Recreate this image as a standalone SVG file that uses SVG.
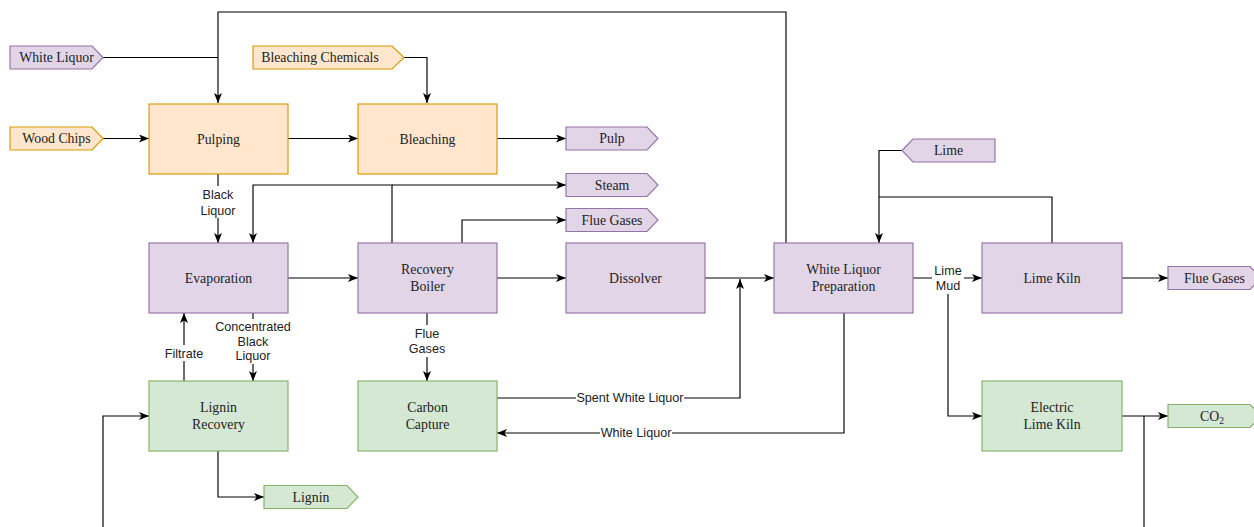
<svg xmlns="http://www.w3.org/2000/svg" width="1254" height="527" viewBox="0 0 1254 527">
<defs>
<marker id="arr" viewBox="0 0 10 8" refX="10" refY="4" markerWidth="10" markerHeight="8" markerUnits="userSpaceOnUse" orient="auto">
<path d="M0,0 L10,4 L0,8 L2.5,4 z" fill="#000"/>
</marker>
<style>
.orange{fill:#ffe6cc;stroke:#d79b00;stroke-width:1.15}
.purple{fill:#e1d5e7;stroke:#9673a6;stroke-width:1.15}
.green{fill:#d5e8d4;stroke:#82b366;stroke-width:1.15}
.nt{font-family:"Liberation Serif","Times New Roman",serif;font-size:13.8px;fill:#222;text-anchor:middle}
.lt{font-family:"Liberation Sans",Arial,sans-serif;font-size:12.6px;fill:#222;text-anchor:middle}
.ln{fill:none;stroke:#000;stroke-width:1.15}
.a{marker-end:url(#arr)}
.bg{fill:#fff}
</style>
</defs>
<rect width="1254" height="527" fill="#fff"/>

<g id="connectors">
<polyline class="ln a" points="786,243 786,12 218,12 218,103"/>
<polyline class="ln" points="103,57.5 218,57.5"/>
<polyline class="ln a" points="404,57.5 427,57.5 427,103"/>
<polyline class="ln a" points="103,138.5 149,138.5"/>
<polyline class="ln a" points="288,138.5 358,138.5"/>
<polyline class="ln a" points="497,138.5 566,138.5"/>
<polyline class="ln a" points="218,174 218,243"/>
<polyline class="ln a" points="392,243 392,185 253,185 253,243"/>
<polyline class="ln a" points="392,185 566,185"/>
<polyline class="ln a" points="462,243 462,220 566,220"/>
<polyline class="ln a" points="288,278 358,278"/>
<polyline class="ln a" points="497,278 566,278"/>
<polyline class="ln a" points="705,278 774,278"/>
<polyline class="ln a" points="497,398 740,398 740,279"/>
<polyline class="ln a" points="844,313 844,433 497,433"/>
<polyline class="ln a" points="902,150.5 879,150.5 879,243"/>
<polyline class="ln" points="1052,243 1052,197 879,197"/>
<polyline class="ln a" points="913,278 982,278"/>
<polyline class="ln a" points="948,278 948,416 982,416"/>
<polyline class="ln a" points="1122,278 1168,278"/>
<polyline class="ln a" points="1122,416 1168,416"/>
<polyline class="ln" points="1144,416 1144,527"/>
<polyline class="ln a" points="253,313 253,381"/>
<polyline class="ln a" points="184,381 184,313"/>
<polyline class="ln a" points="427,313 427,381"/>
<polyline class="ln a" points="218,451 218,497 264,497"/>
<polyline class="ln a" points="103,527 103,416 149,416"/>

<rect class="bg" x="196" y="186" width="44" height="32"/>
<text class="lt" x="218" y="198.5">Black</text>
<text class="lt" x="218" y="214.5">Liquor</text>
<rect class="bg" x="212" y="319" width="82" height="45"/>
<text class="lt" x="253" y="331">Concentrated</text>
<text class="lt" x="253" y="345.5">Black</text>
<text class="lt" x="253" y="360">Liquor</text>
<rect class="bg" x="162" y="345" width="44" height="16"/>
<text class="lt" x="184" y="357.5">Filtrate</text>
<rect class="bg" x="405" y="325" width="44" height="32"/>
<text class="lt" x="427" y="337.5">Flue</text>
<text class="lt" x="427" y="353">Gases</text>
<rect class="bg" x="932" y="262" width="32" height="32"/>
<text class="lt" x="948" y="274.5">Lime</text>
<text class="lt" x="948" y="290">Mud</text>
<rect class="bg" x="576" y="390" width="108" height="16"/>
<text class="lt" x="630" y="402">Spent White Liquor</text>
<rect class="bg" x="600" y="425" width="72" height="16"/>
<text class="lt" x="636" y="437">White Liquor</text>
</g>

<g id="white-liquor-in"><polygon class="purple" points="10,46 92,46 103,57.5 92,69 10,69"/><text class="nt" x="56.5" y="62">White Liquor</text></g>
<g id="bleaching-chemicals"><polygon class="orange" points="253,46 392,46 404,57.5 392,69 253,69"/><text class="nt" x="320" y="61.5">Bleaching Chemicals</text></g>
<g id="wood-chips"><polygon class="orange" points="10,127 92,127 103,138.5 92,150 10,150"/><text class="nt" x="56.5" y="143">Wood Chips</text></g>
<g id="pulping"><rect class="orange" x="149" y="104" width="139" height="70"/><text class="nt" x="218.5" y="143.5">Pulping</text></g>
<g id="bleaching"><rect class="orange" x="358" y="104" width="139" height="70"/><text class="nt" x="427.5" y="143.5">Bleaching</text></g>
<g id="pulp"><polygon class="purple" points="566,127 647,127 658,138.5 647,150 566,150"/><text class="nt" x="612" y="143">Pulp</text></g>
<g id="steam"><polygon class="purple" points="566,173.5 647,173.5 658,185 647,196.5 566,196.5"/><text class="nt" x="612" y="189.5">Steam</text></g>
<g id="flue-gases-1"><polygon class="purple" points="566,208.5 647,208.5 658,220 647,231.5 566,231.5"/><text class="nt" x="612" y="224.5">Flue Gases</text></g>
<g id="lime"><polygon class="purple" points="902,150.5 913,139 995,139 995,162 913,162"/><text class="nt" x="948.5" y="155">Lime</text></g>
<g id="evaporation"><rect class="purple" x="149" y="243" width="139" height="70"/><text class="nt" x="218.5" y="282.5">Evaporation</text></g>
<g id="recovery-boiler"><rect class="purple" x="358" y="243" width="139" height="70"/><text class="nt" x="427.5" y="274">Recovery</text><text class="nt" x="427.5" y="290.5">Boiler</text></g>
<g id="dissolver"><rect class="purple" x="566" y="243" width="139" height="70"/><text class="nt" x="635.5" y="282.5">Dissolver</text></g>
<g id="white-liquor-prep"><rect class="purple" x="774" y="243" width="139" height="70"/><text class="nt" x="843.5" y="274">White Liquor</text><text class="nt" x="843.5" y="290.5">Preparation</text></g>
<g id="lime-kiln"><rect class="purple" x="982" y="243" width="140" height="70"/><text class="nt" x="1052" y="282.5">Lime Kiln</text></g>
<g id="flue-gases-2"><polygon class="purple" points="1168,266.5 1250,266.5 1261,278 1250,289.5 1168,289.5"/><text class="nt" x="1214.5" y="282.5">Flue Gases</text></g>
<g id="lignin-recovery"><rect class="green" x="149" y="381" width="139" height="70"/><text class="nt" x="218.5" y="412">Lignin</text><text class="nt" x="218.5" y="428.5">Recovery</text></g>
<g id="carbon-capture"><rect class="green" x="358" y="381" width="139" height="70"/><text class="nt" x="427.5" y="412">Carbon</text><text class="nt" x="427.5" y="428.5">Capture</text></g>
<g id="electric-lime-kiln"><rect class="green" x="982" y="381" width="140" height="70"/><text class="nt" x="1052" y="412">Electric</text><text class="nt" x="1052" y="428.5">Lime Kiln</text></g>
<g id="co2"><polygon class="green" points="1168,404.5 1250,404.5 1261,416 1250,427.5 1168,427.5"/><text class="nt" x="1212" y="420.5">CO<tspan font-size="9.5px" dy="3">2</tspan></text></g>
<g id="lignin"><polygon class="green" points="264,485.5 347,485.5 358,497 347,508.5 264,508.5"/><text class="nt" x="311" y="501.5">Lignin</text></g>
</svg>
